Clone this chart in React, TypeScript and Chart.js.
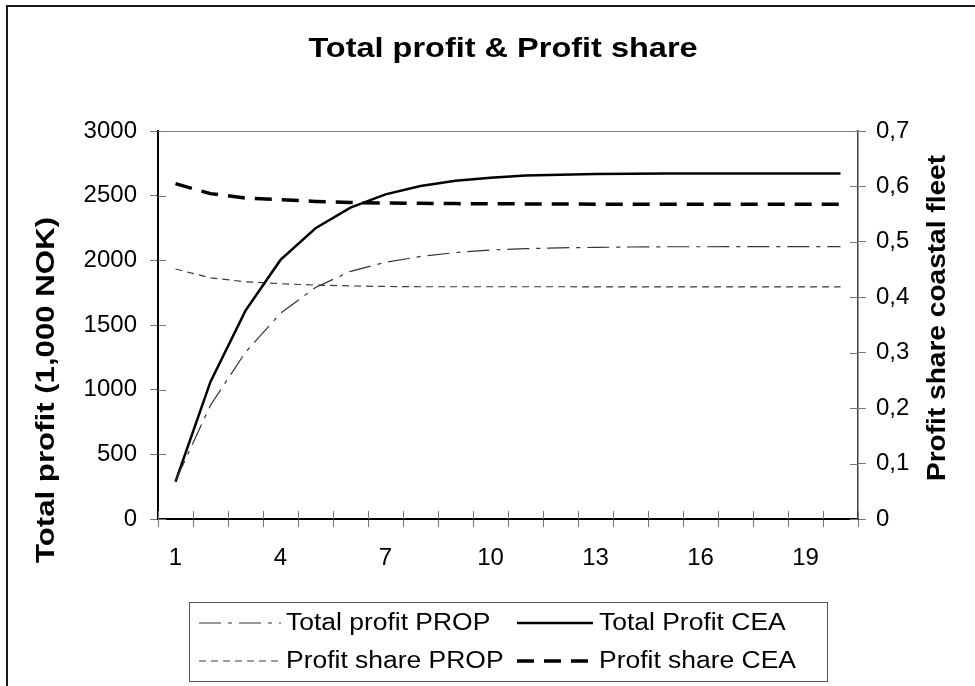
import React, { useEffect, useRef } from 'react';
import { Chart, registerables } from 'chart.js';

Chart.register(...registerables);

const categories = ['1', '2', '3', '4', '5', '6', '7', '8', '9', '10', '11', '12', '13', '14', '15', '16', '17', '18', '19', '20'];
const totalProfitProp = [295, 880, 1290, 1590, 1790, 1915, 1985, 2030, 2060, 2080, 2090, 2097, 2100, 2103, 2105, 2105, 2106, 2106, 2106, 2106];
const totalProfitCea = [288, 1062, 1611, 2003, 2248, 2407, 2510, 2575, 2616, 2639, 2655, 2662, 2667, 2670, 2671, 2672, 2672, 2672, 2672, 2672];
const profitShareProp = [0.451, 0.435, 0.428, 0.4245, 0.422, 0.4205, 0.4195, 0.419, 0.419, 0.419, 0.419, 0.419, 0.4189, 0.4189, 0.4188, 0.4188, 0.4188, 0.4188, 0.4188, 0.4188];
const profitShareCea = [0.605, 0.587, 0.579, 0.576, 0.573, 0.571, 0.57, 0.5695, 0.569, 0.5688, 0.5685, 0.5683, 0.568, 0.568, 0.568, 0.5678, 0.5678, 0.5677, 0.5677, 0.5677];

const seriesNames = ['Total profit PROP', 'Total Profit CEA', 'Profit share PROP', 'Profit share CEA'];
const chartTitle = 'Total profit & Profit share';
const leftAxisTitle = 'Total profit (1,000 NOK)';
const rightAxisTitle = 'Profit share coastal fleet';
const leftMin = 0;
const leftMax = 3000;
const leftStep = 500;
const rightMin = 0;
const rightMax = 0.7;
const rightStep = 0.1;
const xLabelEvery = 3;

const FONT = "'Liberation Sans', Arial, sans-serif";

const styles = [
  { color: '#333333', width: 1.2, dash: [22, 7, 4, 7] },
  { color: '#000000', width: 2.5, dash: [] as number[] },
  { color: '#3a3a3a', width: 1.2, dash: [7, 5] },
  { color: '#000000', width: 3.5, dash: [17, 10] },
];

const stretchText = (
  ctx: CanvasRenderingContext2D,
  text: string,
  x: number,
  y: number,
  sx: number,
  align: CanvasTextAlign,
  rotate = 0,
) => {
  ctx.save();
  ctx.translate(x, y);
  if (rotate) ctx.rotate(rotate);
  ctx.scale(sx, 1);
  ctx.textAlign = align;
  ctx.fillText(text, 0, 0);
  ctx.restore();
};

const decorPlugin = {
  id: 'decor',
  afterDraw(chart: any) {
    const ctx: CanvasRenderingContext2D = chart.ctx;
    const ca = chart.chartArea;
    const xs = chart.scales.x;
    const ys = chart.scales.y;
    const y1s = chart.scales.y1;
    const line = (x1: number, y1: number, x2: number, y2: number) => {
      ctx.beginPath();
      ctx.moveTo(x1, y1);
      ctx.lineTo(x2, y2);
      ctx.stroke();
    };
    ctx.save();
    // outer frame
    ctx.strokeStyle = '#1a1a1a';
    ctx.lineWidth = 2;
    ctx.beginPath();
    ctx.moveTo(7, chart.height);
    ctx.lineTo(7, 6);
    ctx.lineTo(chart.width, 6);
    ctx.stroke();
    // top border of plot area
    ctx.strokeStyle = '#808080';
    ctx.lineWidth = 1;
    line(ca.left, Math.round(ca.top) + 0.5, ca.right, Math.round(ca.top) + 0.5);
    // inner tick marks
    ctx.strokeStyle = '#777777';
    ys.ticks.forEach((t: any) => {
      const py = Math.round(ys.getPixelForValue(t.value)) + 0.5;
      line(ca.left, py, ca.left + 8, py);
    });
    y1s.ticks.forEach((t: any) => {
      const py = Math.round(y1s.getPixelForValue(t.value)) + 0.5;
      line(ca.right - 8, py, ca.right, py);
    });
    const half = (xs.getPixelForValue(1) - xs.getPixelForValue(0)) / 2;
    for (let i = 0; i <= categories.length; i++) {
      const px = Math.round(i < categories.length ? xs.getPixelForValue(i) - half : xs.getPixelForValue(categories.length - 1) + half) + 0.5;
      line(px, ca.bottom - 8, px, ca.bottom);
    }
    ctx.fillStyle = '#000';
    ctx.textBaseline = 'alphabetic';
    // chart title
    ctx.font = `bold 28px ${FONT}`;
    stretchText(ctx, chartTitle, 503, 57, 1.16, 'center');
    // axis titles
    ctx.font = `bold 26px ${FONT}`;
    ctx.textBaseline = 'middle';
    stretchText(ctx, leftAxisTitle, 47, 390, 1.2, 'center', -Math.PI / 2);
    stretchText(ctx, rightAxisTitle, 938, 318, 1.08, 'center', -Math.PI / 2);
    // legend
    ctx.strokeStyle = '#555555';
    ctx.lineWidth = 1;
    ctx.strokeRect(189.5, 602.5, 638, 79);
    const rows = [623, 661];
    const cols = [
      { s0: 199, s1: 281, t: 286 },
      { s0: 517, s1: 593, t: 599 },
    ];
    ctx.font = `23px ${FONT}`;
    ctx.textBaseline = 'middle';
    for (let k = 0; k < 4; k++) {
      const r = Math.floor(k / 2);
      const c = k % 2;
      const st = styles[k];
      const yy = rows[r];
      ctx.save();
      ctx.strokeStyle = st.color;
      ctx.lineWidth = st.width;
      ctx.setLineDash(st.dash);
      line(cols[c].s0, yy, cols[c].s1, yy);
      ctx.restore();
      ctx.fillStyle = '#000';
      stretchText(ctx, seriesNames[k], cols[c].t, yy + 1, 1.15, 'left');
    }
    ctx.restore();
  },
};

export default function App() {
  const ref = useRef<HTMLCanvasElement | null>(null);
  useEffect(() => {
    document.body.style.margin = '0';
    if (!ref.current) return;
    const seriesData = [totalProfitProp, totalProfitCea, profitShareProp, profitShareCea];
    const axisIds = ['y', 'y', 'y1', 'y1'];
    const chart = new Chart(ref.current, {
      type: 'line',
      data: {
        labels: categories,
        datasets: seriesData.map((d, k) => ({
          label: seriesNames[k],
          data: d,
          yAxisID: axisIds[k],
          borderColor: styles[k].color,
          borderWidth: styles[k].width,
          borderDash: styles[k].dash,
          pointRadius: 0,
          pointHoverRadius: 0,
          tension: 0,
          fill: false,
        })),
      },
      options: {
        animation: false,
        responsive: false,
        devicePixelRatio: 1,
        events: [],
        layout: { padding: { left: 28, right: 7, top: 131, bottom: 107 } },
        plugins: { legend: { display: false }, tooltip: { enabled: false }, title: { display: false } },
        scales: {
          x: {
            type: 'category',
            offset: true,
            grid: { offset: true, drawOnChartArea: false, drawTicks: true, tickLength: 8, color: '#777777', lineWidth: 1 },
            border: { display: true, color: '#000', width: 2 },
            ticks: {
              autoSkip: false,
              maxRotation: 0,
              padding: 17,
              color: '#000',
              font: { family: FONT, size: 24 },
              callback: (_v: any, i: number) => (i % xLabelEvery === 0 ? categories[i] : ''),
            },
            afterFit: (s: any) => { s.height = 60; },
          },
          y: {
            position: 'left',
            min: leftMin,
            max: leftMax,
            grid: { drawOnChartArea: false, drawTicks: true, tickLength: 8, color: '#777777', lineWidth: 1 },
            border: { display: true, color: '#000', width: 2 },
            ticks: {
              stepSize: leftStep,
              padding: 13,
              color: '#000',
              font: { family: FONT, size: 24 },
              callback: (v: any) => String(v),
            },
            afterFit: (s: any) => { s.width = 130; },
          },
          y1: {
            position: 'right',
            min: rightMin,
            max: rightMax,
            grid: { drawOnChartArea: false, drawTicks: true, tickLength: 8, color: '#777777', lineWidth: 1 },
            border: { display: true, color: '#404040', width: 1.5 },
            ticks: {
              stepSize: rightStep,
              padding: 10,
              color: '#000',
              font: { family: FONT, size: 24 },
              callback: (v: any) => (Number(v) === 0 ? '0' : Number(v).toFixed(1).replace('.', ',')),
            },
            afterFit: (s: any) => { s.width = 110; },
          },
        },
      },
      plugins: [decorPlugin],
    } as any);
    return () => chart.destroy();
  }, []);
  return (
    <div style={{ width: 975, height: 686, position: 'relative' }}>
      <canvas ref={ref} width={975} height={686} style={{ display: 'block', width: 975, height: 686 }} />
    </div>
  );
}
